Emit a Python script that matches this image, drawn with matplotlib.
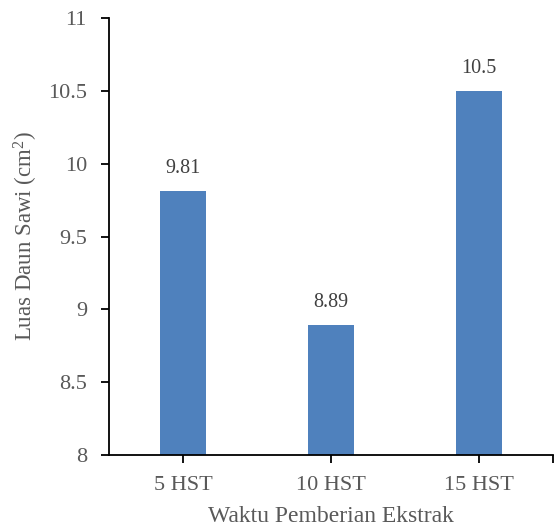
import numpy as np
import matplotlib
matplotlib.use('Agg')
import matplotlib.pyplot as plt

categories = ['5 HST', '10 HST', '15 HST']
luas_daun = [9.81, 8.89, 10.5]
value_labels = ['9.81', '8.89', '10.5']

plt.rcParams['font.family'] = ['Liberation Serif', 'DejaVu Serif']
plt.rcParams['mathtext.fontset'] = 'custom'
plt.rcParams['mathtext.rm'] = 'Liberation Serif'

fig = plt.figure(figsize=(5.54, 5.31), dpi=100)
ax = fig.add_axes([0.197, 0.143, 0.801, 0.823])

x = np.arange(len(categories))
bars = ax.bar(x, luas_daun, width=0.31, color='#4F81BD')

for xi, v, lab in zip(x, luas_daun, value_labels):
    ax.text(xi, v + 0.09, lab, ha='center', va='bottom', fontsize=14.5, color='#404040')

ax.set_xlim(-0.5, 2.5)
ax.set_ylim(8, 11)
ax.set_yticks([8, 8.5, 9, 9.5, 10, 10.5, 11])
ax.set_yticklabels(['8', '8.5', '9', '9.5', '10', '10.5', '11'])
ax.set_xticks(list(x) + [2.5])
ax.set_xticklabels(categories + [''])

for s in ['top', 'right']:
    ax.spines[s].set_visible(False)
for s in ['left', 'bottom']:
    ax.spines[s].set_color('black')
    ax.spines[s].set_linewidth(1.3)

ax.tick_params(axis='both', direction='out', length=6, width=1.3, color='black',
               labelsize=16, labelcolor='#595959')
ax.tick_params(axis='y', pad=10)
ax.tick_params(axis='x', pad=9)

ax.set_xlabel('Waktu Pemberian Ekstrak', fontsize=17, color='#595959', labelpad=8)
ax.set_ylabel('Luas Daun Sawi (cm$\\mathrm{^2}$)', fontsize=16.5, color='#595959', labelpad=6)

fig.savefig('out.png', dpi=100)
